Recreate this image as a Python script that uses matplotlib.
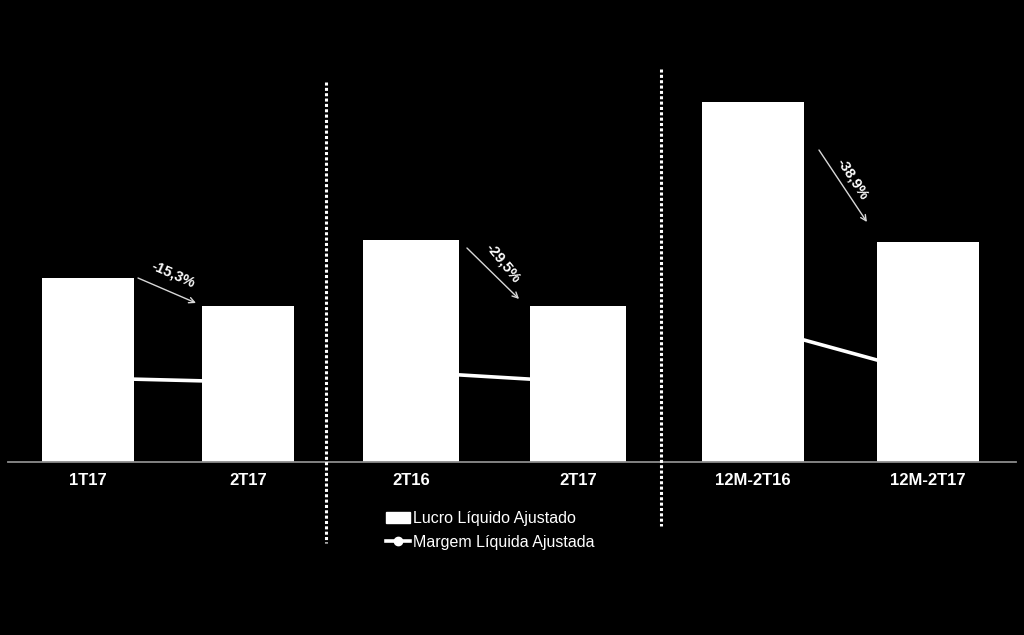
import matplotlib
matplotlib.use("Agg")
import matplotlib.pyplot as plt
from matplotlib.lines import Line2D
from matplotlib.patches import Patch

plt.rcParams['font.family'] = ['Liberation Sans', 'DejaVu Sans']

# ---- data ----
groups = [["1T17", "2T17"], ["2T16", "2T17"], ["12M-2T16", "12M-2T17"]]
lucro = [[184, 156], [222, 156], [360, 220]]          # Lucro Líquido Ajustado (relative units)
margem = [[8.4, 8.0], [9.0, 8.0], [13.6, 8.8]]         # Margem Líquida Ajustada (%)
variacao = ["-15,3%", "-29,5%", "-38,9%"]

# ---- layout (pixels) ----
W, H = 1024, 635
fig = plt.figure(figsize=(W / 100, H / 100), dpi=100, facecolor="black")

base_px = 462
top_px = 62
axes_px = [(8, 328, 88, 248), (327.5, 661, 411, 578), (661, 1016, 753, 928)]
arrows = [((0.3125, 184), (0.675, 159), (0.53, 188), -24),
          ((0.335, 214), (0.647, 163), (0.551, 199), -51),
          ((0.377, 312), (0.651, 240), (0.571, 283), -57)]

for i, (l, r, c0, c1) in enumerate(axes_px):
    ax = fig.add_axes([l / W, (H - base_px) / H, (r - l) / W, (base_px - top_px) / H])
    sp = c1 - c0
    ax.set_xlim((l - c0) / sp, 1 + (r - c1) / sp)
    ax.set_ylim(0, base_px - top_px)
    ax.patch.set_visible(False)

    ax2 = ax.twinx()
    ax2.set_ylim(0, (base_px - top_px) / 10)
    ax2.plot([0, 1], margem[i], color="white", lw=2.6, marker="o", ms=6)
    ax2.set_zorder(ax.get_zorder() - 1)
    ax2.axis("off")

    ax.bar([0, 1], lucro[i], width=0.58, color="white", zorder=2)
    ax.set_xticks([0, 1])
    ax.set_xticklabels(groups[i], color="white", fontsize=12, fontweight="bold")
    ax.tick_params(axis="x", length=0, pad=8)
    ax.set_yticks([])
    for s in ["left", "right", "top"]:
        ax.spines[s].set_visible(False)
    ax.spines["bottom"].set_color("#8c8c8c")
    ax.spines["bottom"].set_linewidth(1.3)

    (s0, s1, tp, rot) = arrows[i]
    ax.annotate("", xy=s1, xytext=s0,
                arrowprops=dict(arrowstyle="->", color="#d8d8d8", lw=1.0,
                                shrinkA=0, shrinkB=0, mutation_scale=10))
    ax.text(tp[0], tp[1], variacao[i], color="white", fontsize=10.5, fontweight="bold",
            rotation=rot, rotation_mode="anchor", ha="center", va="center")

# dotted separators
for x, y0, y1 in [(326, 82, 543), (661, 69, 526)]:
    fig.add_artist(Line2D([x / W, x / W], [(H - y0) / H, (H - y1) / H],
                          transform=fig.transFigure, color="white", lw=2.2,
                          linestyle=(0, (1, 0.75)), dash_capstyle="butt"))

handles = [Patch(facecolor="white", edgecolor="white"),
           Line2D([], [], color="white", lw=2.6, marker="o", ms=6)]
leg = fig.legend(handles, ["Lucro Líquido Ajustado", "Margem Líquida Ajustada"],
                 loc="upper left", bbox_to_anchor=(383 / W, (H - 508) / H),
                 frameon=False, fontsize=11.5, handlelength=1.5, handletextpad=0.2,
                 labelspacing=0.55, borderaxespad=0, borderpad=0.2)
for t in leg.get_texts():
    t.set_color("white")

fig.savefig("out.png", dpi=100, facecolor="black")
